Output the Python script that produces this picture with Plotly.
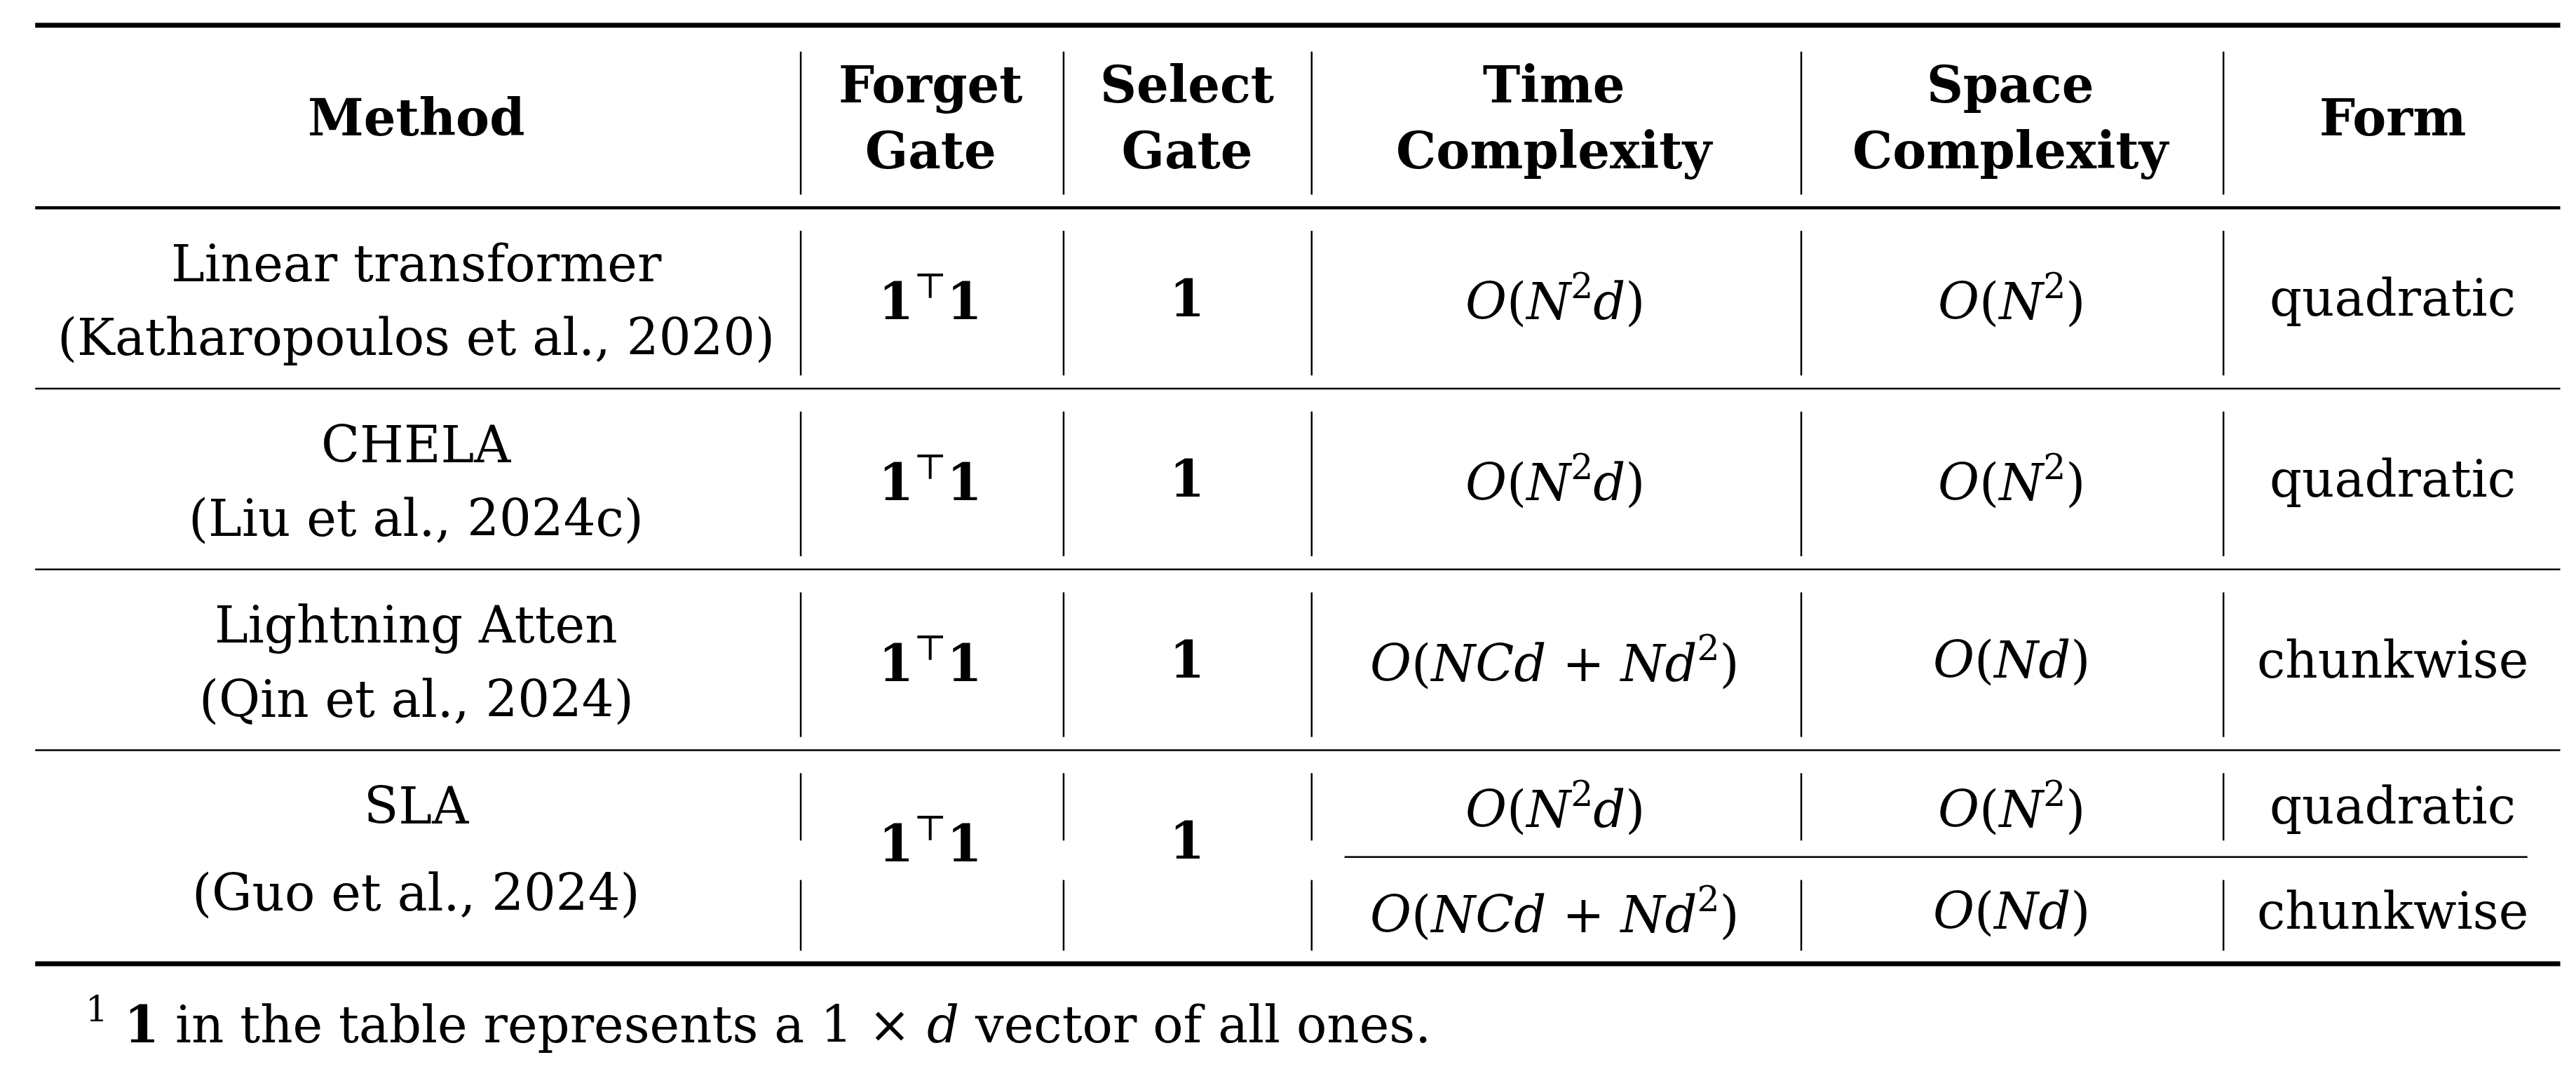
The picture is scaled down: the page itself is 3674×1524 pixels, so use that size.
import plotly.graph_objects as go

W, H = 3674, 1524
S = W / 1568.0
FONT = "DejaVu Serif"
FS = 72

headers = ["<b>Method</b>", "<b>Forget<br>Gate</b>", "<b>Select<br>Gate</b>",
           "<b>Time<br>Complexity</b>", "<b>Space<br>Complexity</b>", "<b>Form</b>"]
methods = ["Linear transformer", "CHELA", "Lightning Atten", "SLA"]
cites = ["(Katharopoulos et al., 2020)", "(Liu et al., 2024c)", "(Qin et al., 2024)", "(Guo et al., 2024)"]
forget = ["<b>1</b><sup>⊤</sup><b>1</b>"] * 4
select = ["<b>1</b>"] * 4
time_c = [["<i>O</i>(<i>N</i><sup>2</sup><i>d</i>)"], ["<i>O</i>(<i>N</i><sup>2</sup><i>d</i>)"],
          ["<i>O</i>(<i>NCd</i> + <i>Nd</i><sup>2</sup>)"],
          ["<i>O</i>(<i>N</i><sup>2</sup><i>d</i>)", "<i>O</i>(<i>NCd</i> + <i>Nd</i><sup>2</sup>)"]]
space_c = [["<i>O</i>(<i>N</i><sup>2</sup>)"], ["<i>O</i>(<i>N</i><sup>2</sup>)"], ["<i>O</i>(<i>Nd</i>)"],
           ["<i>O</i>(<i>N</i><sup>2</sup>)", "<i>O</i>(<i>Nd</i>)"]]
forms = [["quadratic"], ["quadratic"], ["chunkwise"], ["quadratic", "chunkwise"]]
footnote = "<sup>1</sup> <b>1</b> in the table represents a 1 × <i>d</i> vector of all ones."

col_x = [250, 563, 719, 943, 1221, 1453]
seps = [484, 644, 795, 1093, 1350]
row_top = [123, 233, 343, 453]
row_bot = [233, 343, 453, 583]

fig = go.Figure()
ann = []
shapes = []

def T(x, y, t, **kw):
    ann.append(dict(x=x * S, y=y * S, text=t, showarrow=False, xref="x", yref="y",
                    font=dict(family=FONT, size=FS, color="black"), **kw))

def L(x0, y0, x1, y1, w):
    shapes.append(dict(type="line", x0=x0 * S, y0=y0 * S, x1=x1 * S, y1=y1 * S,
                       xref="x", yref="y", line=dict(color="black", width=w)))

for x, h in zip(col_x, headers):
    T(x, 68, h)

for i in range(4):
    t, b = row_top[i], row_bot[i]
    mid = (t + b) / 2
    if i < 3:
        T(col_x[0], t + 34, methods[i]); T(col_x[0], t + 79, cites[i])
        T(col_x[1], mid, forget[i]); T(col_x[2], mid, select[i])
        T(col_x[3], mid, time_c[i][0]); T(col_x[4], mid, space_c[i][0]); T(col_x[5], mid, forms[i][0])
        for sx in seps:
            L(sx, t + 14, sx, b - 8, 2.5)
    else:
        T(col_x[0], 487, methods[i]); T(col_x[0], 540, cites[i])
        T(col_x[1], 508, forget[i]); T(col_x[2], 508, select[i])
        for k, yy in enumerate([487, 551]):
            T(col_x[3], yy, time_c[i][k]); T(col_x[4], yy, space_c[i][k]); T(col_x[5], yy, forms[i][k])
        for sx in seps:
            L(sx, 467, sx, 508, 2.5)
            L(sx, 532, sx, 575, 2.5)
        L(815, 518, 1535, 518, 2.5)

for sx in seps:
    L(sx, 28, sx, 115, 2.5)

L(18, 12, 1555, 12, 7)
L(18, 123, 1555, 123, 4.5)
for y in [233, 343, 453]:
    L(18, y, 1555, y, 2.5)
L(18, 583, 1555, 583, 7)

T(48, 618, footnote, xanchor="left")

fig.update_layout(width=W, height=H, margin=dict(l=0, r=0, t=0, b=0),
                  paper_bgcolor="white", plot_bgcolor="white",
                  xaxis=dict(range=[0, W], visible=False, fixedrange=True),
                  yaxis=dict(range=[H, 0], visible=False, fixedrange=True),
                  annotations=ann, shapes=shapes, showlegend=False)
fig.write_html("out.html")
